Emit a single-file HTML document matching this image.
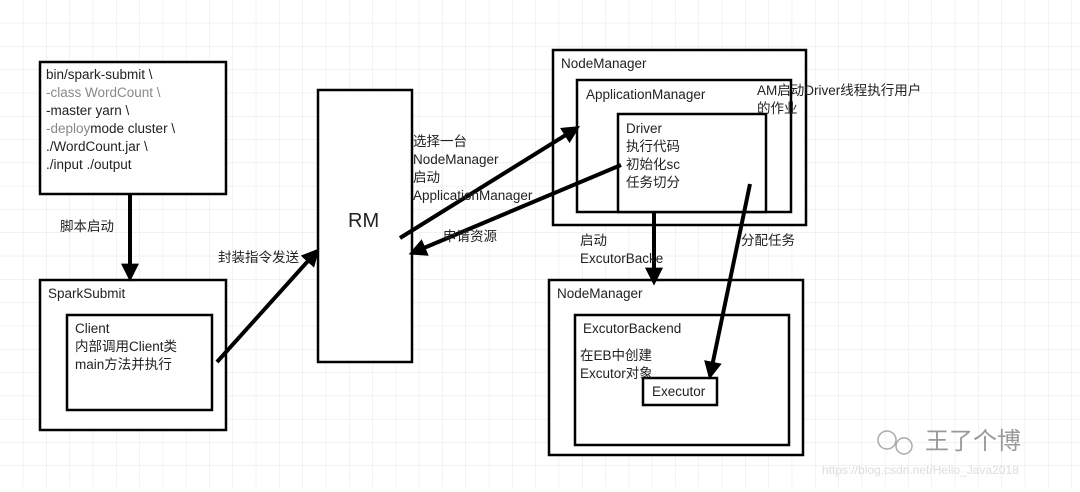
<!DOCTYPE html>
<html><head><meta charset="utf-8"><style>
body{margin:0;width:1080px;height:487px;overflow:hidden;background:#fff;}
svg text{font-family:"Liberation Sans","Noto Sans CJK SC",sans-serif;font-size:13.5px;fill:#222;}
</style></head><body>
<svg width="1080" height="487" xmlns="http://www.w3.org/2000/svg">
<defs>
<pattern id="g" width="23.3" height="23.3" patternUnits="userSpaceOnUse"><path d="M23.3 0V23.3H0" fill="none" stroke="#e6e6e6" stroke-width="1"/></pattern>
<marker id="a" viewBox="0 0 10 10" refX="8" refY="5" markerWidth="4.5" markerHeight="4.5" orient="auto"><path d="M0 0L10 5L0 10z" fill="#000"/></marker>
</defs>
<rect width="1080" height="487" fill="url(#g)"/>
<g fill="#fff" stroke="#000" stroke-width="2.5">
<rect x="40" y="62" width="186" height="132"/>
<rect x="40" y="280" width="186" height="150"/>
<rect x="67" y="315" width="145" height="95"/>
<rect x="318" y="90" width="94" height="272"/>
<rect x="553" y="50" width="253" height="175"/>
<rect x="577" y="80" width="214" height="132"/>
<rect x="618" y="114" width="148" height="98"/>
<rect x="549" y="280" width="254" height="175"/>
<rect x="575" y="315" width="214" height="130"/>
<rect x="643" y="378" width="74" height="27"/>
</g>
<g stroke="#000" stroke-width="4" fill="none" marker-end="url(#a)">
<line x1="130" y1="195" x2="130" y2="278"/>
<line x1="217" y1="362" x2="317" y2="251"/>
<line x1="400" y1="238" x2="577" y2="128"/>
<line x1="621" y1="165" x2="412" y2="253"/>
<line x1="654" y1="212" x2="654" y2="282"/>
<line x1="750" y1="184" x2="710" y2="376"/>
</g>
<text x="46" y="79">bin/spark-submit \</text>
<text x="46" y="97" style="fill:#888">-class WordCount \</text>
<text x="46" y="115">-master yarn \</text>
<text x="46" y="133"><tspan style="fill:#888">-deploy</tspan>mode cluster \</text>
<text x="46" y="151">./WordCount.jar \</text>
<text x="46" y="169">./input ./output</text>
<text x="60" y="231">脚本启动</text>
<text x="48" y="298">SparkSubmit</text>
<text x="75" y="333">Client</text>
<text x="75" y="351">内部调用Client类</text>
<text x="75" y="369">main方法并执行</text>
<text x="218" y="262">封装指令发送</text>
<text x="348" y="227" style="font-size:20px">RM</text>
<text x="413" y="146">选择一台</text>
<text x="413" y="164">NodeManager</text>
<text x="413" y="182">启动</text>
<text x="413" y="200">ApplicationManager</text>
<text x="443" y="241">申请资源</text>
<text x="561" y="68">NodeManager</text>
<text x="586" y="99">ApplicationManager</text>
<text x="757" y="95">AM启动Driver线程执行用户</text>
<text x="757" y="113">的作业</text>
<text x="626" y="133">Driver</text>
<text x="626" y="151">执行代码</text>
<text x="626" y="169">初始化sc</text>
<text x="626" y="187">任务切分</text>
<text x="580" y="245">启动</text>
<text x="580" y="263">ExcutorBacke</text>
<text x="741" y="245">分配任务</text>
<text x="557" y="298">NodeManager</text>
<text x="583" y="333">ExcutorBackend</text>
<text x="580" y="360">在EB中创建</text>
<text x="580" y="378">Excutor对象</text>
<text x="652" y="396">Executor</text>
<text x="925" y="449" style="font-size:24px;fill:#999">王了个博</text>
<text x="822" y="474" style="font-size:12px;fill:#ddd">https://blog.csdn.net/Hello_Java2018</text>
<circle cx="887" cy="440" r="9" fill="none" stroke="#aaa" stroke-width="1.5"/>
<circle cx="904" cy="446" r="8" fill="none" stroke="#aaa" stroke-width="1.5"/>
</svg>
</body></html>
